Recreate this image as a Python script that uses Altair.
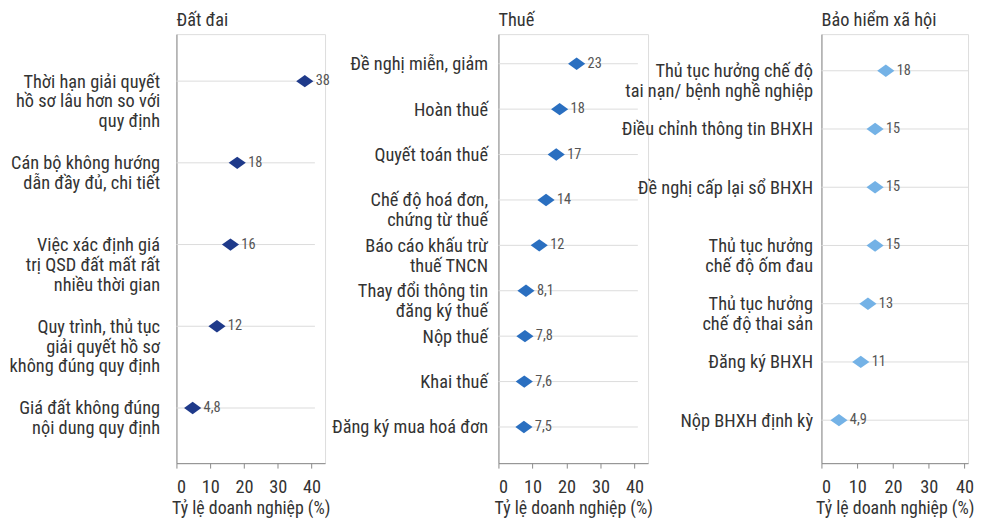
import altair as alt
import pandas as pd

FONT = "Liberation Sans Narrow, Roboto Condensed, Roboto, sans-serif"
TEXT = "#333333"

# Panel 1 – Đất đai
land_cats = [
    "Thời hạn giải quyết|hồ sơ lâu hơn so với|quy định",
    "Cán bộ không hướng|dẫn đầy đủ, chi tiết",
    "Việc xác định giá|trị QSD đất mất rất|nhiều thời gian",
    "Quy trình, thủ tục|giải quyết hồ sơ|không đúng quy định",
    "Giá đất không đúng|nội dung quy định",
]
land_vals = [38, 18, 16, 12, 4.8]

# Panel 2 – Thuế
tax_cats = [
    "Đề nghị miễn, giảm",
    "Hoàn thuế",
    "Quyết toán thuế",
    "Chế độ hoá đơn,|chứng từ thuế",
    "Báo cáo khấu trừ|thuế TNCN",
    "Thay đổi thông tin|đăng ký thuế",
    "Nộp thuế",
    "Khai thuế",
    "Đăng ký mua hoá đơn",
]
tax_vals = [23, 18, 17, 14, 12, 8.1, 7.8, 7.6, 7.5]

# Panel 3 – Bảo hiểm xã hội
ins_cats = [
    "Thủ tục hưởng chế độ|tai nạn/ bệnh nghề nghiệp",
    "Điều chỉnh thông tin BHXH",
    "Đề nghị cấp lại sổ BHXH",
    "Thủ tục hưởng|chế độ ốm đau",
    "Thủ tục hưởng|chế độ thai sản",
    "Đăng ký BHXH",
    "Nộp BHXH định kỳ",
]
ins_vals = [18, 15, 15, 15, 13, 11, 4.9]

x_ticks = [0, 10, 20, 30, 40]
x_title = "Tỷ lệ doanh nghiệp (%)"

DIAMOND = "M-1,0L0,-0.72L1,0L0,0.72Z"
H = 433


def panel(title, cats, vals, color, width, xmax, pad, align, label_pad):
    df = pd.DataFrame({"cat": cats, "v": vals})
    base = alt.Chart(df)
    yenc = alt.Y(
        "cat:N",
        sort=cats,
        scale=alt.Scale(type="point", padding=pad, align=align),
        axis=alt.Axis(
            title=None,
            labelExpr="split(datum.label, '|')",
            labelFont=FONT,
            labelFontSize=18.5,
            labelColor=TEXT,
            labelLineHeight=20,
            labelPadding=label_pad,
            labelLimit=400,
            ticks=False,
            grid=False,
            domainColor="#8a8a8a",
            domainWidth=1,
        ),
    )
    xscale = alt.Scale(domain=[0, xmax], nice=False, zero=True)
    xaxis = alt.Axis(
        values=x_ticks,
        title=x_title,
        titleFont=FONT,
        titleFontSize=18,
        titleFontWeight="normal",
        titleColor=TEXT,
        titlePadding=3,
        labelFont=FONT,
        labelFontSize=18.5,
        labelColor=TEXT,
        labelPadding=10,
        tickSize=5,
        tickColor="#8a8a8a",
        domainColor="#8a8a8a",
        grid=False,
    )
    rules = base.mark_rule(color="#dcdcdc", strokeWidth=1).encode(
        x=alt.X(datum=0, scale=xscale, axis=xaxis),
        x2=alt.datum(41),
        y=yenc,
    )
    pts = base.mark_point(
        shape=DIAMOND, filled=True, size=300, color=color, opacity=1
    ).encode(x=alt.X("v:Q", scale=xscale, axis=xaxis), y=yenc)
    txt = (
        base.transform_calculate(lbl="replace(toString(datum.v), '.', ',')")
        .mark_text(align="left", baseline="middle", dx=11, font=FONT, fontSize=14.5, color="#555555")
        .encode(x=alt.X("v:Q", scale=xscale, axis=xaxis), y=yenc, text="lbl:N")
    )
    return alt.layer(rules, pts, txt).properties(
        width=width,
        height=H,
        title=alt.TitleParams(
            title,
            anchor="start",
            frame="group",
            font=FONT,
            fontSize=18.5,
            fontWeight="normal",
            color=TEXT,
            offset=5,
        ),
    )


p1 = panel("Đất đai", land_cats, land_vals, "#1f3a8a", 150, 44, 0.625, 0.46, 17)
p2 = panel("Thuế", tax_cats, tax_vals, "#2a6fc0", 151, 44, 0.724, 0.45, 11)
p3 = panel("Bảo hiểm xã hội", ins_cats, ins_vals, "#74b2e6", 148, 41, 0.683, 0.46, 9)

chart = (
    alt.hconcat(p1, p2, p3, spacing=175, bounds="flush")
    .properties(padding={"left": 0, "top": 0, "right": 0, "bottom": 0})
    .configure_view(stroke=None)
    .configure(background="white")
)

chart.save("out.html", embed_options={"renderer": "svg", "actions": False})
